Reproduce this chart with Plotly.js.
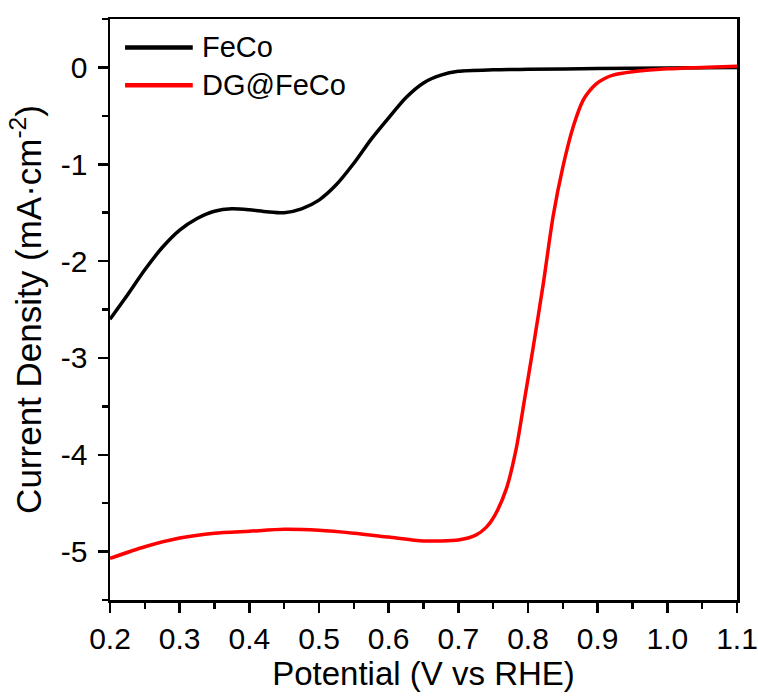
<!DOCTYPE html>
<html>
<head>
<meta charset="utf-8">
<script src="https://cdn.plot.ly/plotly-3.0.1.min.js"></script>
<style>
html,body{margin:0;padding:0;background:#fff;}
#chart{width:758px;height:697px;}
</style>
</head>
<body>
<div id="chart"></div>
<script>
// FeCo LSV curve
const fecoPotential = [0.2, 0.225, 0.25, 0.275, 0.3, 0.325, 0.35, 0.375, 0.4, 0.425, 0.45, 0.475, 0.5, 0.525, 0.55, 0.575, 0.6, 0.625, 0.65, 0.675, 0.7, 0.75, 0.8, 0.9, 1.0, 1.1];
const fecoCurrent   = [-2.60, -2.35, -2.09, -1.86, -1.68, -1.56, -1.485, -1.46, -1.47, -1.49, -1.50, -1.46, -1.37, -1.21, -0.99, -0.74, -0.52, -0.31, -0.16, -0.08, -0.04, -0.025, -0.02, -0.012, -0.006, 0.0];

// DG@FeCo LSV curve
const dgPotential = [0.2, 0.25, 0.3, 0.35, 0.4, 0.45, 0.5, 0.55, 0.6, 0.65, 0.7, 0.725, 0.74, 0.752, 0.769, 0.783, 0.795, 0.807, 0.822, 0.836, 0.85, 0.865, 0.879, 0.888, 0.898, 0.91, 0.922, 0.95, 1.0, 1.05, 1.1];
const dgCurrent   = [-5.07, -4.95, -4.86, -4.81, -4.79, -4.77, -4.78, -4.81, -4.85, -4.89, -4.88, -4.83, -4.75, -4.63, -4.35, -3.94, -3.43, -2.91, -2.23, -1.54, -1.03, -0.61, -0.34, -0.245, -0.17, -0.115, -0.08, -0.045, -0.015, 0.0, 0.013];

const seriesNames = ["FeCo", "DG@FeCo"];
const seriesColors = ["#000000", "#ff0000"];

const xTickVals = [0.2, 0.3, 0.4, 0.5, 0.6, 0.7, 0.8, 0.9, 1.0, 1.1];
const xTickText = ["0.2", "0.3", "0.4", "0.5", "0.6", "0.7", "0.8", "0.9", "1.0", "1.1"];
const yTickVals = [-5, -4, -3, -2, -1, 0];
const yTickText = ["-5", "-4", "-3", "-2", "-1", "0"];

const FONT = "Liberation Sans, Arial, Helvetica, sans-serif";

const traces = [
  {x: fecoPotential, y: fecoCurrent, name: seriesNames[0], mode: "lines",
   line: {color: seriesColors[0], width: 3.5, shape: "spline", smoothing: 0.7}},
  {x: dgPotential, y: dgCurrent, name: seriesNames[1], mode: "lines",
   line: {color: seriesColors[1], width: 3.5, shape: "spline", smoothing: 0.7}}
];

const legendY = [0.951, 0.886];
const shapes = [];
const annotations = [];
for (let i = 0; i < seriesNames.length; i++) {
  shapes.push({type: "line", xref: "paper", yref: "paper", x0: 0.024, x1: 0.132, y0: legendY[i], y1: legendY[i],
    line: {color: seriesColors[i], width: 4.5}});
  annotations.push({xref: "paper", yref: "paper", x: 0.143, y: legendY[i], xanchor: "left", yanchor: "middle",
    text: seriesNames[i], showarrow: false, font: {family: FONT, size: 29, color: "#000"}});
}

const layout = {
  width: 758, height: 697,
  margin: {l: 110, r: 21, t: 19, b: 97},
  paper_bgcolor: "#fff", plot_bgcolor: "#fff",
  showlegend: false,
  font: {family: FONT, color: "#000"},
  xaxis: {
    range: [0.2, 1.1], tickmode: "array", tickvals: xTickVals, ticktext: xTickText,
    showgrid: false, zeroline: false, showline: true, linecolor: "#000", linewidth: 2.5, mirror: true,
    ticks: "outside", ticklen: 10, tickwidth: 2.5, tickcolor: "#000",
    tickfont: {family: FONT, size: 30, color: "#000"},
    minor: {tickmode: "linear", tick0: 0.2, dtick: 0.05, ticks: "outside", ticklen: 6, tickwidth: 2.5, tickcolor: "#000", showgrid: false},
    title: {text: "Potential (V vs RHE)", font: {family: FONT, size: 33, color: "#000"}, standoff: 9},
    automargin: false
  },
  yaxis: {
    range: [-5.5, 0.5], tickmode: "array", tickvals: yTickVals, ticktext: yTickText,
    showgrid: false, zeroline: false, showline: true, linecolor: "#000", linewidth: 2.5, mirror: true,
    ticks: "outside", ticklen: 10, tickwidth: 2.5, tickcolor: "#000", ticklabelstandoff: 4,
    tickfont: {family: FONT, size: 30, color: "#000"},
    minor: {tickmode: "linear", tick0: 0, dtick: 0.5, ticks: "outside", ticklen: 6, tickwidth: 2.5, tickcolor: "#000", showgrid: false},
    title: {text: "Current Density (mA·cm<sup>-2</sup>)", font: {family: FONT, size: 35, color: "#000"}, standoff: 9},
    automargin: false
  },
  shapes: shapes,
  annotations: annotations
};

Plotly.newPlot("chart", traces, layout, {displayModeBar: false, staticPlot: true});
</script>
</body>
</html>
